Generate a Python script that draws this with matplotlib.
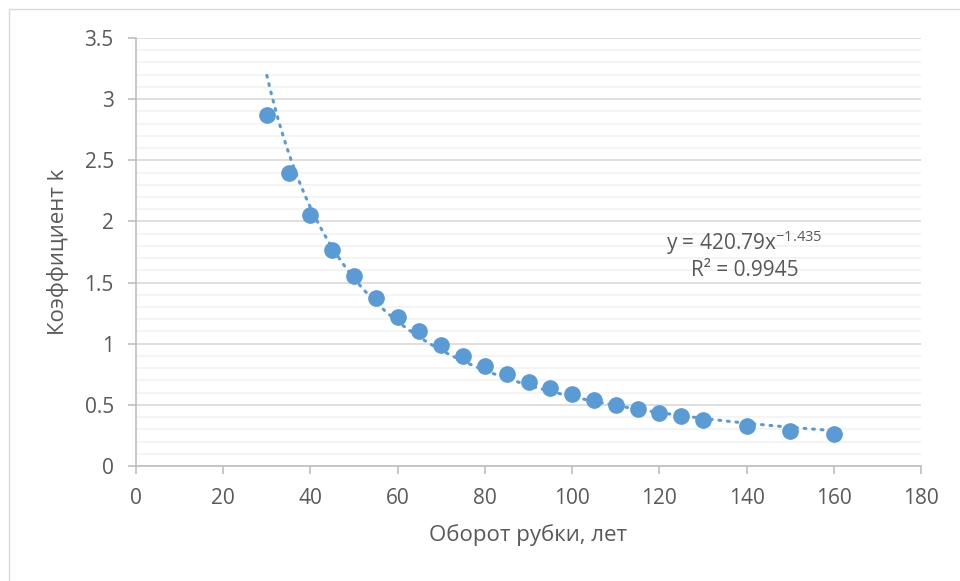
import numpy as np
import matplotlib.pyplot as plt
from matplotlib.patches import Rectangle
from matplotlib.ticker import MultipleLocator

# оборот рубки, лет и коэффициент k
years = [30, 35, 40, 45, 50, 55, 60, 65, 70, 75, 80, 85, 90, 95, 100,
         105, 110, 115, 120, 125, 130, 140, 150, 160]
k_vals = [2.87, 2.40, 2.05, 1.77, 1.55, 1.37, 1.22, 1.10, 0.99, 0.90, 0.82,
          0.75, 0.69, 0.64, 0.59, 0.54, 0.50, 0.47, 0.43, 0.41, 0.38,
          0.33, 0.29, 0.26]

# степенной тренд y = a * x^b
coef_a = 420.79
coef_b = -1.435
r2 = 0.9945

plt.rcParams['font.family'] = ['Open Sans', 'DejaVu Sans']
plt.rcParams['mathtext.default'] = 'regular'
text_col = '#595959'
blue = '#5B9BD5'

fig = plt.figure(figsize=(9.6, 5.81), dpi=100)
fig.patches.append(Rectangle((9 / 960, -0.1), 1.2, 1 - 9 / 581 + 0.1,
                             transform=fig.transFigure, fill=False,
                             edgecolor='#D9D9D9', linewidth=1))
ax = fig.add_axes([136 / 960, 115 / 581, 785 / 960, 428 / 581])

xt = np.linspace(min(years), max(years), 300)
ax.plot(xt, coef_a * xt ** coef_b, color=blue, linewidth=2.2,
        linestyle=(0, (0.6, 2.2)), dash_capstyle='round', zorder=2)
ax.plot(years, k_vals, 'o', color=blue, markersize=11, zorder=3)

ax.set_xlim(0, 180)
ax.set_ylim(0, 3.5)
ax.xaxis.set_major_locator(MultipleLocator(20))
ax.yaxis.set_minor_locator(MultipleLocator(0.1))
ax.set_yticks([0, 0.5, 1, 1.5, 2, 2.5, 3, 3.5],
              ['0', '0.5', '1', '1.5', '2', '2.5', '3', '3.5'])
ax.grid(axis='y', which='major', color='#D9D9D9', linewidth=1.2)
ax.grid(axis='y', which='minor', color='#F2F2F2', linewidth=1.2)
ax.set_axisbelow(True)

for s in ['top', 'right']:
    ax.spines[s].set_visible(False)
for s in ['left', 'bottom']:
    ax.spines[s].set_color('#BFBFBF')
    ax.spines[s].set_linewidth(1.2)
ax.tick_params(which='major', color='#BFBFBF', length=6, width=1.2,
               labelsize=15, labelcolor=text_col)
ax.tick_params(axis='x', pad=10)
ax.tick_params(axis='y', pad=10)
ax.tick_params(which='minor', length=0)

ax.set_xlabel('Оборот рубки, лет', fontsize=16, color=text_col, labelpad=11)
ax.set_ylabel('Коэффициент k', fontsize=16, color=text_col, labelpad=11)

ax.text(139.5, 1.83, 'y = %.2fx$^{%s}$' % (coef_a, coef_b), ha='center',
        va='center', fontsize=15, color=text_col)
ax.text(139.5, 1.60, 'R² = %.4f' % r2, ha='center', va='center',
        fontsize=15, color=text_col)

fig.savefig('out.png', dpi=100)
